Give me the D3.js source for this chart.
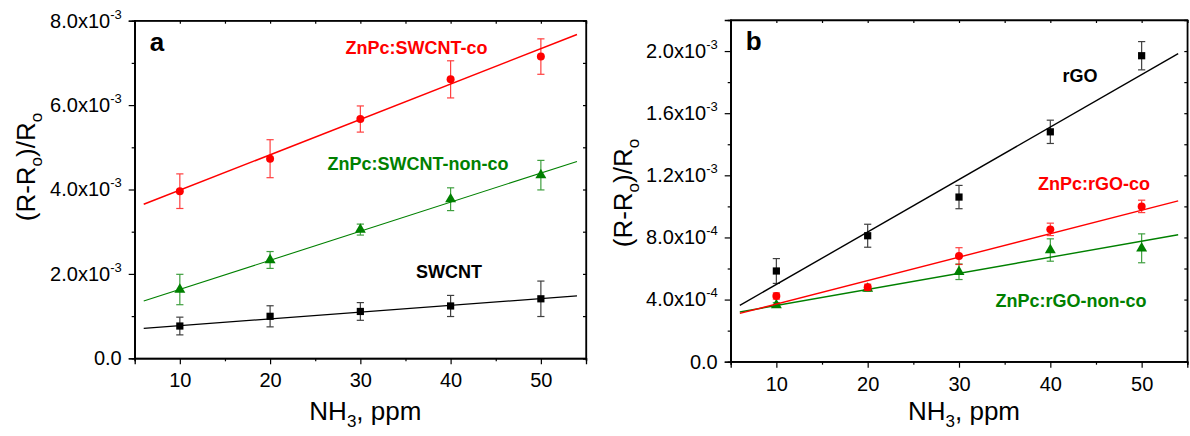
<!DOCTYPE html>
<html>
<head>
<meta charset="utf-8">
<script src="https://cdn.jsdelivr.net/npm/d3@7/dist/d3.min.js"></script>
<style>
  body { margin: 0; background: #fff; }
  svg { display: block; font-family: "Liberation Sans", Arial, sans-serif; }
</style>
</head>
<body>
<script>
// NH3 concentrations (ppm)
const ppm = [10, 20, 30, 40, 50];

// panel a, values in units of 1e-3
const aCo = [3.96, 4.73, 5.67, 6.61, 7.15];
const aCoErr = [0.41, 0.45, 0.31, 0.44, 0.42];
const aNon = [1.63, 2.33, 3.05, 3.77, 4.34];
const aNonErr = [0.36, 0.20, 0.13, 0.27, 0.35];
const aSw = [0.765, 0.995, 1.11, 1.24, 1.41];
const aSwErr = [0.21, 0.25, 0.21, 0.25, 0.42];
// linear fits [intercept, slope]
const aCoFit = [3.147, 0.0838];
const aNonFit = [0.944, 0.0689];
const aSwFit = [0.614, 0.016];

// panel b, values in units of 1e-3
const bRgo = [0.584, 0.811, 1.06, 1.48, 1.97];
const bRgoErr = [0.08, 0.074, 0.075, 0.075, 0.091];
const bCo = [0.423, 0.479, 0.68, 0.852, 1.0];
const bCoErr = [0.02, 0.02, 0.054, 0.04, 0.04];
const bNon = [0.365, 0.47, 0.579, 0.719, 0.73];
const bNonErr = [0.015, 0.015, 0.05, 0.072, 0.093];
const bRgoFit = [0.160, 0.03376];
const bCoFit = [0.2205, 0.01509];
const bNonFit = [0.2579, 0.01036];

const fitRange = [6, 54];

// tick labels
const xTicks = [10, 20, 30, 40, 50];
const xMinor = [5, 15, 25, 35, 45, 55];
const aYTicks = [0, 2, 4, 6, 8];
const aYLabels = [["0.0", ""], ["2.0x10", "-3"], ["4.0x10", "-3"], ["6.0x10", "-3"], ["8.0x10", "-3"]];
const aYMinor = [1, 3, 5, 7];
const bYTicks = [0, 0.4, 0.8, 1.2, 1.6, 2.0];
const bYLabels = [["0.0", ""], ["4.0x10", "-4"], ["8.0x10", "-4"], ["1.2x10", "-3"], ["1.6x10", "-3"], ["2.0x10", "-3"]];
const bYMinor = [0.2, 0.6, 1.0, 1.4, 1.8];

const RED = "#ff0000", GREEN = "#008000", BLACK = "#000000";

const svg = d3.select("body").append("svg")
    .attr("width", 1190).attr("height", 436);

function drawPanel(p) {
    const x = d3.scaleLinear().domain([5, 55]).range([p.left, p.right]);
    const y = d3.scaleLinear().domain(p.yDomain).range([p.bottom, p.top]);
    const g = svg.append("g");

    // frame
    g.append("rect")
        .attr("x", p.left).attr("y", p.top)
        .attr("width", p.right - p.left).attr("height", p.bottom - p.top)
        .attr("fill", "none").attr("stroke", "#000").attr("stroke-width", 1.3);

    // bottom axis
    const gx = g.append("g").attr("transform", `translate(0,${p.bottom})`);
    gx.call(d3.axisBottom(x).tickValues(xTicks).tickSize(6).tickPadding(9).tickFormat(d3.format("d")));
    g.append("g").attr("transform", `translate(0,${p.bottom})`)
        .call(d3.axisBottom(x).tickValues(xMinor).tickSize(3).tickFormat(() => ""));
    // left axis
    const gy = g.append("g").attr("transform", `translate(${p.left},0)`);
    gy.call(d3.axisLeft(y).tickValues(p.yTicks).tickSize(6).tickPadding(7).tickFormat(() => ""));
    g.append("g").attr("transform", `translate(${p.left},0)`)
        .call(d3.axisLeft(y).tickValues(p.yMinor).tickSize(3).tickFormat(() => ""));
    // mirror ticks (top, right)
    g.append("g").attr("transform", `translate(0,${p.top})`)
        .call(d3.axisTop(x).tickValues(xTicks.concat(xMinor)).tickSize(-3).tickFormat(() => ""));
    g.append("g").attr("transform", `translate(${p.right},0)`)
        .call(d3.axisRight(y).tickValues(p.yTicks.concat(p.yMinor)).tickSize(-3).tickFormat(() => ""));

    g.selectAll(".domain").attr("stroke-width", 1.3);
    g.selectAll(".tick line").attr("stroke-width", 1.2);
    gx.selectAll(".tick text").attr("font-size", 20).attr("font-family", "Liberation Sans, Arial, sans-serif").attr("fill", "#000");

    gy.selectAll(".tick text").each(function (d, i) {
        const t = d3.select(this).text(null)
            .attr("font-size", 20).attr("font-family", "Liberation Sans, Arial, sans-serif").attr("fill", "#000");
        t.append("tspan").text(p.yLabels[i][0]);
        if (p.yLabels[i][1]) t.append("tspan").attr("dy", -9).attr("font-size", 13).text(p.yLabels[i][1]);
    });

    // axis titles
    const xt = g.append("text")
        .attr("x", (p.left + p.right) / 2 + 5).attr("y", 420)
        .attr("text-anchor", "middle").attr("font-size", 26);
    xt.append("tspan").text("NH");
    xt.append("tspan").attr("font-size", 17).attr("dy", 7).text("3");
    xt.append("tspan").attr("dy", -7).text(", ppm");

    const yt = g.append("text")
        .attr("transform", `translate(${p.titleX},${p.titleY}) rotate(-90)`)
        .attr("text-anchor", "middle").attr("font-size", 26);
    yt.append("tspan").text("(R-R");
    yt.append("tspan").attr("font-size", 17).attr("dy", 7).text("o");
    yt.append("tspan").attr("dy", -7).text(")/R");
    yt.append("tspan").attr("font-size", 17).attr("dy", 7).text("o");

    // panel letter
    g.append("text").attr("x", p.left + 15).attr("y", p.top + 30)
        .attr("font-size", 26).attr("font-weight", "bold").text(p.letter);

    // series
    p.series.forEach(s => {
        const line = d3.line().x(d => x(d)).y(d => y(s.fit[0] + s.fit[1] * d));
        g.append("path").datum(fitRange)
            .attr("d", line).attr("fill", "none")
            .attr("stroke", s.color).attr("stroke-width", s.lw || 1.4);

        const pts = ppm.map((v, i) => ({ x: v, y: s.y[i], e: s.err[i] }));
        const eb = g.append("g").attr("stroke", s.color).attr("stroke-width", 1.2).attr("opacity", 0.75);
        eb.selectAll("line.v").data(pts).join("line")
            .attr("x1", d => x(d.x)).attr("x2", d => x(d.x))
            .attr("y1", d => y(d.y - d.e)).attr("y2", d => y(d.y + d.e));
        eb.selectAll("line.t").data(pts).join("line")
            .attr("x1", d => x(d.x) - 3.6).attr("x2", d => x(d.x) + 3.6)
            .attr("y1", d => y(d.y + d.e)).attr("y2", d => y(d.y + d.e));
        eb.selectAll("line.b").data(pts).join("line")
            .attr("x1", d => x(d.x) - 3.6).attr("x2", d => x(d.x) + 3.6)
            .attr("y1", d => y(d.y - d.e)).attr("y2", d => y(d.y - d.e));

        g.selectAll(null).data(pts).join("path")
            .attr("transform", d => `translate(${x(d.x)},${y(d.y)})`)
            .attr("d", d3.symbol().type(s.symbol).size(s.size))
            .attr("fill", s.color);

        g.append("text").attr("x", s.label[1]).attr("y", s.label[2])
            .attr("font-size", 18).attr("font-weight", "bold").attr("fill", s.color)
            .text(s.label[0]);
    });
}

drawPanel({
    left: 134.7, right: 586, top: 20.7, bottom: 358.3,
    yDomain: [0, 8], yTicks: aYTicks, yMinor: aYMinor, yLabels: aYLabels,
    titleX: 35, titleY: 167, letter: "a",
    series: [
        { y: aSw, err: aSwErr, fit: aSwFit, color: BLACK, symbol: d3.symbolSquare, size: 52, lw: 1.3, label: ["SWCNT", 416, 278] },
        { y: aNon, err: aNonErr, fit: aNonFit, color: GREEN, symbol: d3.symbolTriangle, size: 52, lw: 1.1, label: ["ZnPc:SWCNT-non-co", 327.5, 170] },
        { y: aCo, err: aCoErr, fit: aCoFit, color: RED, symbol: d3.symbolCircle, size: 50, lw: 1.5, label: ["ZnPc:SWCNT-co", 345.5, 54] }
    ]
});

drawPanel({
    left: 730.7, right: 1187.3, top: 20, bottom: 361.7,
    yDomain: [0, 2.2], yTicks: bYTicks, yMinor: bYMinor, yLabels: bYLabels,
    titleX: 632, titleY: 193, letter: "b",
    series: [
        { y: bNon, err: bNonErr, fit: bNonFit, color: GREEN, symbol: d3.symbolTriangle, size: 52, lw: 1.4, label: ["ZnPc:rGO-non-co", 995.5, 306.5] },
        { y: bCo, err: bCoErr, fit: bCoFit, color: RED, symbol: d3.symbolCircle, size: 50, lw: 1.4, label: ["ZnPc:rGO-co", 1038, 190] },
        { y: bRgo, err: bRgoErr, fit: bRgoFit, color: BLACK, symbol: d3.symbolSquare, size: 52, lw: 1.4, label: ["rGO", 1062.5, 81.5] }
    ]
});
</script>
</body>
</html>
